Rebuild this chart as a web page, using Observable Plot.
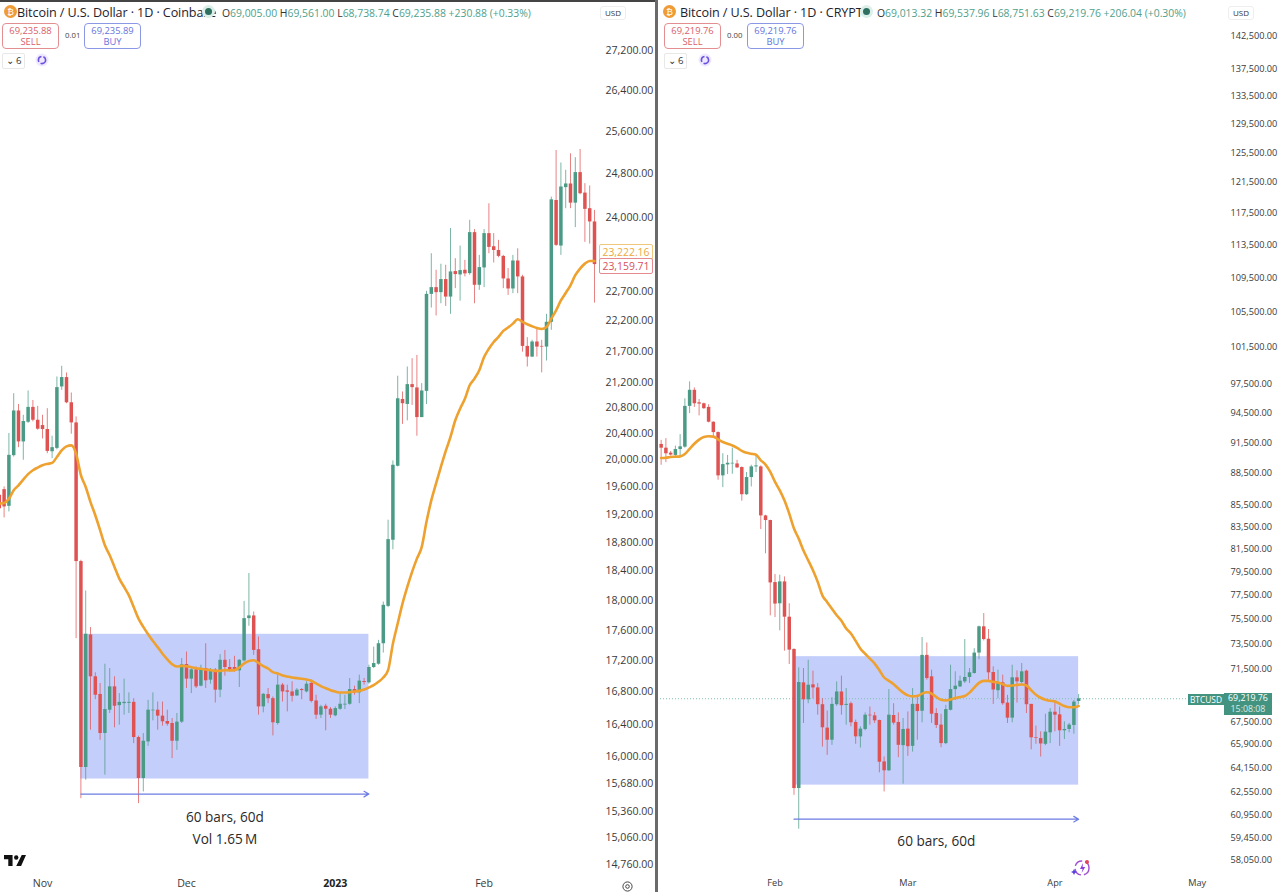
<!DOCTYPE html>
<html><head><meta charset="utf-8">
<script src="https://cdn.jsdelivr.net/npm/d3@7"></script>
<script src="https://cdn.jsdelivr.net/npm/@observablehq/plot@0.6"></script>
<style>
html,body{margin:0;padding:0;background:#fff}
#stage{position:relative;width:1280px;height:892px;overflow:hidden;background:#fff;font-family:"Open Sans",sans-serif;color:#222}
#stage>svg.plot,#stage>div>svg{display:block}
.panel{position:absolute;top:0}
.o{position:absolute;white-space:nowrap}
.hd{font-size:12.6px;top:4px;color:#1e222d;letter-spacing:-.1px}
.ohlc{font-size:10.4px;top:5.5px;color:#4f9f8c}
.ohlc b{font-weight:400;color:#333}
.btn{top:23px;height:23px;width:55px;border:1px solid;border-radius:4px;text-align:center;font-size:9.4px;line-height:11px;padding-top:1px;background:#fff}
.sell{color:#d9606a;border-color:#e38f92}
.buy{color:#6474dc;border-color:#8b98e6}
.sp{top:30px;font-size:7.8px;color:#444}
.six{top:53px;height:14px;border:1px solid #e8e8e8;border-radius:2px;font-size:9.6px;line-height:14px;text-align:center;color:#333;width:21px}
.usd{top:6px;font-size:8px;color:#333;border:1px solid #eee;border-radius:3px;padding:1px 4px;line-height:10px}
.dot{top:8px;width:7px;height:7px;border-radius:50%;background:#2f6f60;box-shadow:0 0 0 3px #dcefe9}
.coin{top:5px;width:13px;height:13px;border-radius:50%;background:#ef9b36;color:#fff;font-size:9px;line-height:13px;text-align:center}
.tag{font-size:10.4px;height:14px;line-height:14px;text-align:center;border:1px solid;background:#fff;border-radius:2px}
</style></head><body><div id="stage"></div>
<script>
// ---- left chart (Coinbase, daily) ----
const leftFirstDay = "2022-10-23";
const leftOpen = [19475,19559,19315,20064,20749,20272,20574,20805,20605,20523,20462,20123,20174,21127,21276,20877,20564,18530,15875,17537,16994,16770,16285,16573,16866,16630,16655,16659,16671,16236,15744,16183,16565,16573,16499,16433,16408,16191,16425,17151,16964,17083,16875,17100,16951,17079,16824,17206,17113,17113,17070,17198,17753,17789,17343,16614,16768,16717,16408,16888,16815,16802,16751,16832,16802,16909,16688,16511,16622,16585,16503,16585,16638,16647,16832,16790,16934,16917,17113,17155,17421,17917,18829,19905,20929,20851,21164,21111,20646,21057,22648,22763,22677,22901,22602,23039,22981,23062,23004,23723,22803,23102,23705,23473,23407,23303,22912,22740,23223,22947,21780,21606,21852,21780,21769,22178,24302,23485,24538,24606,24254,24817,24438,24153,23914];
const leftHigh = [19599,19599,20400,21020,20851,20682,21063,20913,20821,20682,20785,20359,21286,21457,21350,21031,20657,18548,18125,17634,17045,16909,17155,17100,16994,16781,16964,16790,16717,16253,16285,16696,16790,16675,16675,16573,16470,16532,17228,17313,17100,17121,17143,17421,17100,17100,17279,17334,17215,17257,17215,17984,18364,17842,17510,16781,16845,16739,17045,16909,16888,16930,16845,16845,16930,16951,16760,16634,16647,16606,16614,16781,16760,16972,16875,17015,16972,17143,17377,17465,17975,19115,19985,21297,21047,21446,21580,21633,21180,22700,23350,23062,23166,23148,23795,23263,23484,23234,23944,23777,23321,23777,24242,23705,23586,23321,23091,23321,23437,22976,21924,21880,22073,21880,22311,24364,25232,24996,24860,25170,25096,25251,24612,24569,24123];
const leftLow = [19153,19148,19234,20044,20185,19995,20554,20579,20451,20318,20094,20019,20153,21073,20862,20390,17488,15507,15724,16326,16704,16203,15784,16532,16355,16388,16511,16532,16162,15450,15586,16130,16441,16326,16375,16375,15981,16080,16408,16845,16781,16845,16866,16845,16900,16662,16730,17002,17058,17053,16858,17185,17651,17270,16511,16540,16655,16256,16388,16675,16552,16675,16747,16704,16790,16663,16458,16470,16318,16470,16491,16573,16581,16634,16760,16655,16888,16900,17100,17143,17300,17900,18695,19895,20541,20595,20836,20359,20646,20851,22417,22284,22489,22444,22311,22746,22533,22947,22976,22489,22717,22763,23350,23188,23280,22746,22631,22660,22660,21686,21446,21596,21606,21351,21542,22045,23479,23321,24153,24153,23812,24407,23550,23520,22500];
const leftClose = [19281,19306,20069,20749,20272,20585,20805,20605,20467,20462,20128,20185,21116,21276,20877,20564,18530,15875,17545,16994,16760,16285,16581,16866,16622,16671,16671,16671,16236,15744,16191,16573,16573,16499,16429,16400,16191,16425,17147,16964,17083,16866,17083,16943,17079,16824,17206,17113,17079,17062,17206,17753,17789,17334,16614,16772,16717,16417,16888,16802,16798,16747,16824,16819,16900,16683,16511,16614,16585,16511,16593,16647,16647,16832,16790,16939,16922,17113,17164,17421,17931,18838,19920,20940,20862,21164,21116,20646,21063,22648,22763,22677,22901,22602,23033,22987,23056,22999,23723,22803,23108,23705,23461,23407,23303,22912,22740,23223,22947,21780,21606,21852,21769,21769,22178,24314,23497,24550,24606,24254,24817,24426,24141,23914,23160];
const leftAverage = [19354,19363,19425,19549,19623,19707,19787,19846,19886,19920,19940,19955,20044,20143,20205,20220,20094,19772,19598,19377,19186,18972,18758,18617,18456,18295,18180,18065,17908,17753,17643,17545,17456,17377,17291,17219,17155,17125,17134,17130,17117,17104,17096,17087,17079,17070,17070,17079,17075,17079,17113,17164,17198,17206,17172,17130,17100,17053,17036,17011,16998,16985,16977,16968,16960,16943,16909,16875,16849,16824,16807,16794,16794,16798,16807,16815,16832,16858,16888,16930,16985,17079,17421,17687,17953,18180,18387,18571,18733,19091,19401,19650,19896,20133,20348,20605,20785,20940,21153,21260,21393,21606,21741,21852,21935,22035,22090,22156,22228,22184,22145,22112,22084,22067,22100,22239,22378,22544,22671,22803,22976,23091,23177,23223,23223];
const leftPriceTicks = [27200,26400,25600,24800,24000,22700,22200,21700,21200,20800,20400,20000,19600,19200,18800,18400,18000,17600,17200,16800,16400,16000,15680,15360,15060,14760];
const leftMonthTicks = ["2022-11-01","2022-12-01","2023-02-01"];
const leftMonthLabels = ["Nov","Dec","Feb"];
const leftYearTick = "2023-01-01";
const leftYearLabel = "2023";
const leftRange = {start:"2022-11-09", end:"2023-01-08", top:17545, bottom:15738, arrow:15561};
const leftNotes = [{date:"2022-12-09", price:15283, text:"60 bars, 60d"},{date:"2022-12-09", price:15043, text:"Vol 1.65\u2009M"}];

// ---- right chart (CRYPTO, daily) ----
const rightFirstDay = "2026-01-08";
const rightOpen = [91328,90955,90466,90241,90820,91057,95193,96877,95566,95464,95091,93566,92515,88251,89311,89407,89407,89054,86458,88090,89118,89118,84483,84058,78563,76769,78620,75654,73040,62767,70429,69140,70275,70043,68772,67039,66161,68772,69734,68723,68845,67455,66405,66942,67991,67942,67600,64615,63992,67967,67455,65771,66966,65722,68796,68284,72571,70894,68113,67259,65917,68357,69914,70120,70507,70842,71152,72752,74865,73858,71230,69832,70430,68894,67772,70816,70455,71333,68796,66356,66283,65868,66698,68211,68015,66844,66942,67235,69013.32];
const rightHigh = [91735,91905,90627,91159,92311,95982,97772,97128,95910,95532,95362,93600,92583,90402,90241,90955,89760,89118,88572,89278,90306,89214,84544,84088,79254,79196,79052,76769,73090,71591,71539,72184,71333,70378,69218,68308,69295,70507,70946,69992,68967,67625,67137,68162,68601,68186,67625,64962,69914,68845,68162,67747,68235,69992,69476,73995,73559,71410,68479,68064,68723,71797,71281,70946,73831,71539,73097,74919,75953,74647,71668,71410,71023,69476,71797,71358,71926,71410,68796,67186,66771,68064,68479,69089,68601,67503,67381,69089,69537.96];
const rightLow = [89278,89535,90177,90081,90081,90955,94447,95091,94210,94888,93498,92074,87834,87128,88379,88411,88957,85851,86394,87192,88572,83237,81068,75763,75627,74539,72906,71849,62305,60050,67381,68845,69218,67991,65668,65078,65795,68650,67991,67259,67137,65868,65600,66844,67259,67381,63853,62536,63946,67259,64916,63068,65008,65309,66161,67430,70636,67381,67015,65624,65844,68308,69089,70068,70378,70378,71101,72236,73723,70636,68796,69218,68723,67381,67430,68894,70327,68113,65473,65868,64962,65770,65917,66771,65722,66210,66698,66600,68751.63];
const rightClose = [90955,90402,90274,90820,91091,95193,96877,95464,95430,94955,93566,92515,88251,89343,89471,89471,89022,86458,88090,89118,89214,84483,84058,78534,76742,78620,75654,72985,62767,70455,69140,70249,70043,68772,67064,66161,68796,69734,68699,68796,67430,66405,66966,67991,67942,67576,64592,63992,67991,67406,65795,66942,65697,68796,68259,72571,70765,68064,67235,65917,68406,69914,70172,70559,70842,71204,72752,74865,73831,71204,69884,70455,68845,67772,70816,70507,71281,68772,66332,66307,65893,66747,68211,67991,66844,66942,67259,68967,69219.76];
const rightAverage = [89985,90017,90081,90113,90145,90370,90892,91396,91803,92074,92142,92108,91837,91565,91396,91227,90989,90691,90498,90402,90306,89760,89343,88636,87673,86870,85912,84696,83328,82416,81356,80492,79628,78620,77449,76905,76361,75817,75355,74729,74321,73723,73097,72700,72313,71926,71410,70842,70584,70327,69992,69683,69476,69399,69425,69605,69708,69605,69347,69141,69089,69165,69269,69347,69425,69683,70068,70430,70584,70584,70507,70455,70327,70197,70223,70275,70301,70223,69863,69528,69295,69141,69065,69016,68845,68674,68577,68577,68674];
const rightPriceTicks = [142500,137500,133500,129500,125500,121500,117500,113500,109500,105500,101500,97500,94500,91500,88500,85500,83500,81500,79500,77500,75500,73500,71500,67500,65900,64150,62550,60950,59450,58050];
const rightMonthTicks = ["2026-02-01","2026-03-01","2026-04-01","2026-05-01"];
const rightMonthLabels = ["Feb","Mar","Apr","May"];
const rightRange = {start:"2026-02-05", end:"2026-04-06", top:72470, bottom:63000, arrow:60707};
const rightNotes = [{date:"2026-03-07", price:59261, text:"60 bars, 60d"}];
const rightLast = 69219.76;

const GREEN="#4a9a85", RED="#de5252", ORANGE="#eea12e", BOX="#c4cefb", LINE="#6c7ce4", TXT="#3a3a3a";
const FONT='"Open Sans",sans-serif';
const day = s => new Date(s+"T00:00:00Z");

function table(first,o,h,l,c,m){
  const d0=day(first);
  return o.map((v,i)=>({date:d3.utcDay.offset(d0,i),open:v,high:h[i],low:l[i],close:c[i],avg:m[i],up:c[i]>=v}));
}
function chart(cfg){
  const rows=table(cfg.first,cfg.o,cfg.h,cfg.l,cfg.c,cfg.m);
  const r=cfg.range;
  const col=d=>d.up?GREEN:RED;
  const months=cfg.months.map(day);
  const marks=[
    Plot.rect([r],{x1:d=>day(d.start),x2:d=>day(d.end),y1:"bottom",y2:"top",fill:BOX}),
    ...(cfg.last?[Plot.ruleY([cfg.last],{stroke:"#7fbfae",strokeDasharray:"1 2",strokeWidth:1})]:[]),
    Plot.ruleX(rows,{x:"date",y1:"low",y2:"high",stroke:col,strokeWidth:1,strokeOpacity:.72,clip:true}),
    Plot.ruleX(rows,{x:"date",y1:"open",y2:"close",stroke:col,strokeWidth:3.5,clip:true}),
    Plot.line(rows,{x:"date",y:"avg",stroke:ORANGE,strokeWidth:2.6,curve:"monotone-x",clip:true}),
    Plot.arrow([r],{x1:d=>day(d.start),x2:d=>day(d.end),y1:"arrow",y2:"arrow",stroke:LINE,strokeWidth:1.2,headLength:7,bend:0}),
    Plot.text(cfg.notes,{x:d=>day(d.date),y:"price",text:"text",fontSize:13.6,fill:"#2a2a2a"}),
    Plot.axisY({anchor:"right",ticks:cfg.ticks,tickSize:0,tickPadding:5,label:null,tickFormat:d3.format(",.2f"),fontSize:cfg.fs,fill:TXT}),
    Plot.axisX({anchor:"bottom",ticks:months,tickSize:0,tickPadding:7,label:null,fontSize:cfg.fs,fill:TXT,
      tickFormat:d=>cfg.labels[months.findIndex(m=>+m===+d)]}),
    ...(cfg.yearTick?[Plot.axisX({anchor:"bottom",ticks:[day(cfg.yearTick)],tickSize:0,tickPadding:7,label:null,fontSize:cfg.fs,fill:"#222",fontWeight:"bold",tickFormat:()=>cfg.yearLabel})]:[])
  ];
  return Plot.plot({width:cfg.w,height:892,marginTop:0,marginBottom:20,marginLeft:0,marginRight:55,
    style:{fontFamily:FONT,background:"transparent",overflow:"visible"},
    x:{type:"utc",domain:cfg.xd,axis:null},
    y:{type:"log",domain:cfg.yd,axis:null},
    marks});
}
const stage=document.getElementById("stage");
function place(el,x,w){const d=document.createElement("div");d.className="panel";d.style.left=x+"px";d.style.width=w+"px";d.appendChild(el);stage.appendChild(d);}
place(chart({w:655,first:leftFirstDay,o:leftOpen,h:leftHigh,l:leftLow,c:leftClose,m:leftAverage,range:leftRange,notes:leftNotes,
  ticks:leftPriceTicks,months:leftMonthTicks,labels:leftMonthLabels,yearTick:leftYearTick,yearLabel:leftYearLabel,fs:10.6,
  xd:[new Date(Date.UTC(2022,9,23,6)),new Date(Date.UTC(2023,1,25,6))],yd:[14671,28241]}),0,655);
place(chart({w:623,first:rightFirstDay,o:rightOpen,h:rightHigh,l:rightLow,c:rightClose,m:rightAverage,range:rightRange,notes:rightNotes,last:rightLast,
  ticks:rightPriceTicks,months:rightMonthTicks,labels:rightMonthLabels,fs:9.2,
  xd:[new Date(Date.UTC(2026,0,7,5,31)),new Date(Date.UTC(2026,4,6,23,0))],yd:[57279,148153]}),657,623);

function o(cls,x,html,extra){const e=document.createElement("div");e.className="o "+cls;e.style.left=x+"px";e.innerHTML=html;if(extra)Object.assign(e.style,extra);stage.appendChild(e);return e;}
// frame
o("",0,"",{top:"0",width:"655px",height:"1.5px",background:"#444"});
o("",655,"",{top:"0",width:"2.5px",height:"892px",background:"#6a6a6a"});
function header(x,title,vals,sell,buy,spread){
  o("coin",x+4,"\u20bf");
  o("hd",x+17,title);
  return {x};
}
// left header
o("coin",4,"\u20bf");
o("hd",17,"Bitcoin / U.S. Dollar · 1D · Coinbase");
o("dot",205,"");
o("ohlc",222,"<b>O</b>69,005.00 <b>H</b>69,561.00 <b>L</b>68,738.74 <b>C</b>69,235.88 +230.88 (+0.33%)");
o("btn sell",2,"69,235.88<br>SELL");
o("sp",65,"0.01");
o("btn buy",84,"69,235.89<br>BUY");
o("six",2,"⌄ 6");
o("usd",600,"USD");
// right header
o("coin",663,"\u20bf");
o("hd",680,"Bitcoin / U.S. Dollar · 1D · CRYPTO");
o("dot",863,"");
o("ohlc",877,"<b>O</b>69,013.32 <b>H</b>69,537.96 <b>L</b>68,751.63 <b>C</b>69,219.76 +206.04 (+0.30%)");
o("btn sell",664,"69,219.76<br>SELL");
o("sp",727,"0.00");
o("btn buy",747,"69,219.76<br>BUY");
o("six",664,"⌄ 6");
o("usd",1228,"USD");
// refresh icons
const refresh='<svg width="14" height="14" viewBox="0 0 14 14"><circle cx="7" cy="7" r="6.5" fill="#efe9ff"/><circle cx="7" cy="7" r="3.6" fill="none" stroke="#6a4fe0" stroke-width="1.6" stroke-dasharray="7 2"/></svg>';
o("",35,refresh,{top:"53px"});
o("",698,refresh,{top:"53px"});
// price tags
o("tag",599,"23,222.16",{top:"243.5px",width:"52px",color:"#eda93a",borderColor:"#f1c77e"});
o("tag",599,"23,159.71",{top:"258px",width:"52px",color:"#d9505a",borderColor:"#e58a8f"});
o("",1188,"BTCUSD",{top:"694px",width:"36px",height:"11px",background:"#429481",color:"#fff",fontSize:"8.4px",lineHeight:"11px",textAlign:"center"});
o("",1224,"69,219.76<br><span style='opacity:.8'>15:08:08</span>",{top:"693px",width:"48px",height:"22px",background:"#429481",color:"#fff",fontSize:"8.8px",lineHeight:"11px",textAlign:"center"});
// logo and small icons
o("",4,'<svg width="22" height="11" viewBox="0 0 36 18"><path d="M0 0h14v18H7V7H0z M29 0h7l-8 18h-8z" fill="#111"/><circle cx="20" cy="4" r="3.6" fill="#111"/></svg>',{top:"855px"});
o("",622,'<svg width="11" height="11" viewBox="0 0 11 11"><circle cx="5.5" cy="5.5" r="4.6" fill="none" stroke="#444"/><circle cx="5.5" cy="5.5" r="1.8" fill="none" stroke="#444"/></svg>',{top:"881px"});
o("",1071,'<svg width="20" height="20" viewBox="0 0 20 20"><circle cx="11" cy="10" r="7" fill="none" stroke="#a04fd0" stroke-width="1.4" stroke-dasharray="9 3"/><path d="M12 5l-3 6h2.6l-1 4 3.6-6h-2.6z" fill="#8a3fe0"/><path d="M3 11l1 2 2 1-2 1-1 2-1-2-2-1 2-1z" fill="#5a3fe0"/><circle cx="16" cy="4" r="2" fill="#e0455a"/></svg>',{top:"858px"});
</script></body></html>
